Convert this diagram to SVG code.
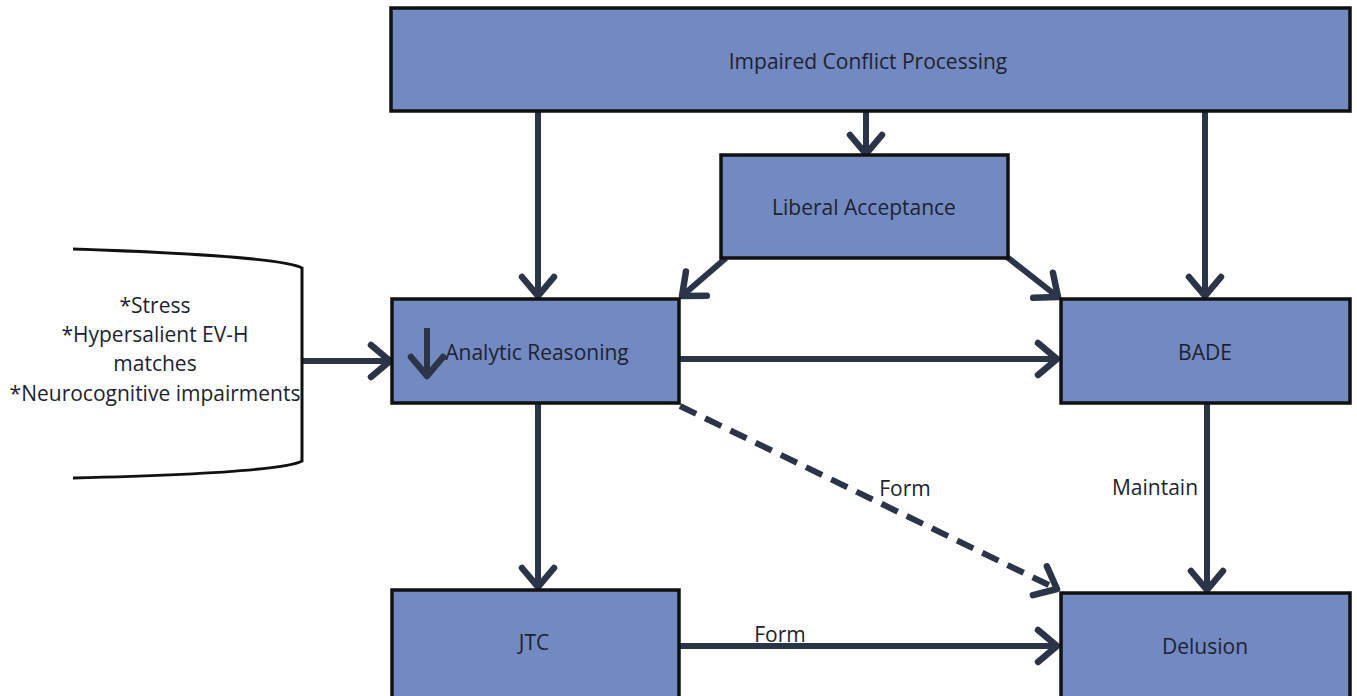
<svg xmlns="http://www.w3.org/2000/svg" width="1357" height="696" viewBox="0 0 1357 696">
<style>
.box{fill:#7389c2;stroke:#111;stroke-width:3.5}
.lbl{font-family:"Open Sans","Liberation Sans",sans-serif;font-size:21px;fill:#1e2230;text-anchor:middle}
.edge{stroke:#2b3448;stroke-width:6;fill:none}
.dash{stroke-dasharray:18 10}
</style>
<defs>
<marker id="ah" markerUnits="userSpaceOnUse" viewBox="0 0 32 42" markerWidth="32" markerHeight="42" refX="27" refY="21" orient="auto">
<path d="M8,5 L27,21 L8,37" fill="none" stroke="#2b3448" stroke-width="6.5" stroke-linecap="round" stroke-linejoin="round"/>
</marker>
</defs>
<rect width="1357" height="696" fill="#fff"/>
<g id="connectors">
<line class="edge" x1="302" y1="361" x2="390" y2="361" marker-end="url(#ah)"/>
<line class="edge" x1="538" y1="111" x2="538" y2="296" marker-end="url(#ah)"/>
<line class="edge" x1="866" y1="111" x2="866" y2="154" marker-end="url(#ah)"/>
<line class="edge" x1="1205" y1="111" x2="1205" y2="296" marker-end="url(#ah)"/>
<line class="edge" x1="726" y1="258" x2="682" y2="296" marker-end="url(#ah)"/>
<line class="edge" x1="1007" y1="257" x2="1058" y2="297" marker-end="url(#ah)"/>
<line class="edge" x1="679" y1="359" x2="1057" y2="359" marker-end="url(#ah)"/>
<line class="edge" x1="538" y1="403" x2="538" y2="587" marker-end="url(#ah)"/>
<line class="edge dash" x1="680" y1="406" x2="1057" y2="589" marker-end="url(#ah)"/>
<line class="edge" x1="1207" y1="403" x2="1207" y2="590" marker-end="url(#ah)"/>
<line class="edge" x1="679" y1="646" x2="1057" y2="646" marker-end="url(#ah)"/>
<text class="lbl" x="905" y="496">Form</text>
<text class="lbl" x="1155" y="495">Maintain</text>
<text class="lbl" x="780" y="642">Form</text>
</g>
<g id="factors">
<path d="M73,249 Q280,256 302,268 L302,461 Q280,473 73,478" fill="none" stroke="#111" stroke-width="3"/>
<text class="lbl" x="155" y="313">*Stress</text>
<text class="lbl" x="155" y="342">*Hypersalient EV-H</text>
<text class="lbl" x="155" y="371">matches</text>
<text class="lbl" x="155" y="401">*Neurocognitive impairments</text>
</g>
<g id="impaired">
<rect class="box" x="391" y="8" width="959" height="103"/>
<text class="lbl" x="868" y="69">Impaired Conflict Processing</text>
</g>
<g id="liberal">
<rect class="box" x="721" y="155" width="287" height="103"/>
<text class="lbl" x="864" y="215">Liberal Acceptance</text>
</g>
<g id="analytic">
<rect class="box" x="392" y="299" width="287" height="104"/>
<line class="edge" x1="427" y1="328" x2="427" y2="376" stroke-width="7" marker-end="url(#ah)"/>
<text class="lbl" x="537" y="360">Analytic Reasoning</text>
</g>
<g id="bade">
<rect class="box" x="1061" y="299" width="289" height="104"/>
<text class="lbl" x="1205" y="360">BADE</text>
</g>
<g id="jtc">
<rect class="box" x="392" y="590" width="287" height="110"/>
<text class="lbl" x="534" y="650">JTC</text>
</g>
<g id="delusion">
<rect class="box" x="1061" y="593" width="289" height="110"/>
<text class="lbl" x="1205" y="654">Delusion</text>
</g>
</svg>
